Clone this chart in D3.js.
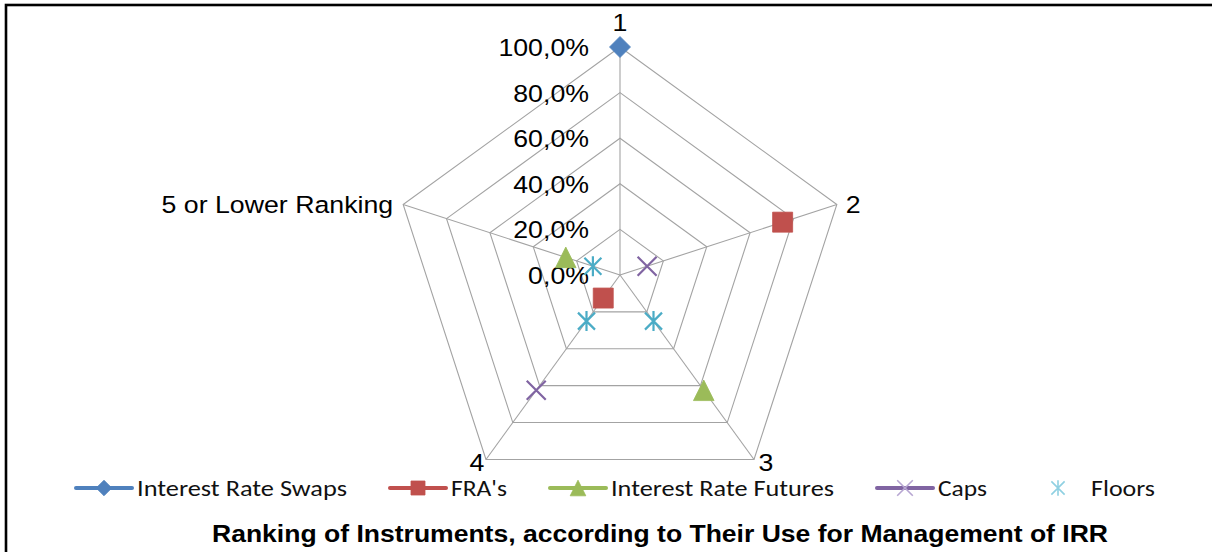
<!DOCTYPE html>
<html>
<head>
<meta charset="utf-8">
<script src="https://cdn.jsdelivr.net/npm/d3@7"></script>
<style>
  body { margin: 0; background: #fff; }
  svg { display: block; }
</style>
</head>
<body>
<svg id="chart" width="1212" height="552"></svg>
<script>
// Radar axes (ranking positions) and percentage rings
const categories = ["1", "2", "3", "4", "5 or Lower Ranking"];
const tickValues = [0, 20, 40, 60, 80, 100];
const tickLabels = ["0,0%", "20,0%", "40,0%", "60,0%", "80,0%", "100,0%"];

// Share of respondents per ranking position (null = no answers)
const seriesNames = ["Interest Rate Swaps", "FRA's", "Interest Rate Futures", "Caps", "Floors"];
const swaps   = [100, null, null, null, null];
const fras    = [null, 75, null, 12.5, null];
const futures = [null, null, 62.5, null, 25];
const caps    = [null, 12.5, null, 62.5, null];
const floors  = [null, null, 25, 25, 12.5];

const title = "Ranking of Instruments, according to Their Use for Management of IRR";

// ---- layout / style ----
const W = 1212, H = 552;
const cx = 620, cy = 275, R = 228;
const gridColor = "#a3a3a3";
const colors = ["#4f81bd", "#c0504d", "#9bbb59", "#8064a2", "#4bacc6"];
const legendSoft = [null, null, null, "#b7a6d2", "#8fd0e2"];
const markerKinds = ["diamond", "square", "triangle", "x", "asterisk"];
const axisFont = "'Liberation Sans', Arial, sans-serif";
const legendFont = "Carlito, Calibri, Lato, sans-serif";

const svg = d3.select("#chart");

// Outer frame
svg.append("rect")
  .attr("x", 6).attr("y", 5)
  .attr("width", W + 20).attr("height", H + 20)
  .attr("fill", "#fff")
  .attr("stroke", "#000")
  .attr("stroke-width", 2.6);

const r = d3.scaleLinear().domain([0, 100]).range([0, R]);
const angle = d3.scaleLinear().domain([0, categories.length]).range([0, 2 * Math.PI]);
const pt = (i, v) => {
  const p = d3.pointRadial(angle(i), r(v));
  return [cx + p[0], cy + p[1]];
};

const g = svg.append("g");

// Rings
const ring = d3.lineRadial()
  .angle((d, i) => angle(i))
  .radius(d => r(d))
  .curve(d3.curveLinearClosed);

g.append("g").selectAll("path")
  .data(tickValues.filter(t => t > 0))
  .join("path")
  .attr("transform", `translate(${cx},${cy})`)
  .attr("d", t => ring(categories.map(() => t)))
  .attr("fill", "none")
  .attr("stroke", gridColor)
  .attr("stroke-width", 1.1);

// Spokes
g.append("g").selectAll("line")
  .data(categories)
  .join("line")
  .attr("x1", cx).attr("y1", cy)
  .attr("x2", (d, i) => pt(i, 100)[0])
  .attr("y2", (d, i) => pt(i, 100)[1])
  .attr("stroke", gridColor)
  .attr("stroke-width", 1.1);

// Widen text horizontally a little
function stretch(sel, k) {
  sel.each(function () {
    const w = this.getComputedTextLength();
    d3.select(this).attr("textLength", w * k).attr("lengthAdjust", "spacingAndGlyphs");
  });
}

// Tick labels along the first axis
g.append("g").selectAll("text")
  .data(tickValues)
  .join("text")
  .attr("x", cx - 31)
  .attr("y", t => cy - r(t) + 9)
  .attr("text-anchor", "end")
  .attr("font-family", axisFont)
  .attr("font-size", 24.5)
  .attr("fill", "#000")
  .text((t, i) => tickLabels[i])
  .call(stretch, 1.09);

// Category labels around the web
const catOffset = [
  { dx: 0, dy: -16, anchor: "middle" },
  { dx: 9, dy: 8, anchor: "start" },
  { dx: 12, dy: 11.5, anchor: "middle" },
  { dx: -9, dy: 11.5, anchor: "middle" },
  { dx: -10, dy: 8, anchor: "end" }
];
g.append("g").selectAll("text")
  .data(categories)
  .join("text")
  .attr("x", (d, i) => pt(i, 100)[0] + catOffset[i].dx)
  .attr("y", (d, i) => pt(i, 100)[1] + catOffset[i].dy)
  .attr("text-anchor", (d, i) => catOffset[i].anchor)
  .attr("font-family", axisFont)
  .attr("font-size", 24.5)
  .attr("fill", "#000")
  .text(d => d)
  .call(stretch, 1.09);

// Marker shapes
function markerPath(kind, s) {
  const p = d3.path();
  if (kind === "diamond") {
    p.moveTo(0, -s); p.lineTo(s, 0); p.lineTo(0, s); p.lineTo(-s, 0); p.closePath();
  } else if (kind === "square") {
    p.rect(-s, -s, 2 * s, 2 * s);
  } else if (kind === "triangle") {
    p.moveTo(0, -s); p.lineTo(s, s); p.lineTo(-s, s); p.closePath();
  } else if (kind === "x") {
    p.moveTo(-s, -s); p.lineTo(s, s); p.moveTo(s, -s); p.lineTo(-s, s);
  } else if (kind === "asterisk") {
    const d = s * 0.85;
    p.moveTo(0, -s); p.lineTo(0, s);
    p.moveTo(-d, -d); p.lineTo(d, d); p.moveTo(d, -d); p.lineTo(-d, d);
  }
  return p.toString();
}
function styleMarker(sel, kind, color, sw) {
  if (kind === "x" || kind === "asterisk") {
    sel.attr("fill", "none").attr("stroke", color).attr("stroke-width", sw);
  } else {
    sel.attr("fill", color).attr("stroke", color).attr("stroke-width", 0.8)
       .attr("stroke-linejoin", "round");
  }
}

const series = [swaps, fras, futures, caps, floors];
const markerSize = [10.5, 10, 10.3, 9.5, 10];

series.forEach((vals, si) => {
  const pts = vals.map((v, i) => ({ v, i })).filter(d => d.v != null);
  g.append("g").selectAll("path")
    .data(pts)
    .join("path")
    .attr("transform", d => `translate(${pt(d.i, d.v)[0]},${pt(d.i, d.v)[1]})`)
    .attr("d", markerPath(markerKinds[si], markerSize[si]))
    .call(styleMarker, markerKinds[si], colors[si], 2.2);
});

// Legend
const legendWidths = [210, 56, 223, 49, 64];
const legendY = 488;
let lx = 76;
const leg = svg.append("g");
seriesNames.forEach((name, si) => {
  const item = leg.append("g");
  if (si !== 4) {
    item.append("line")
      .attr("x1", lx).attr("x2", lx + 56)
      .attr("y1", legendY).attr("y2", legendY)
      .attr("stroke", colors[si])
      .attr("stroke-width", 4)
      .attr("stroke-linecap", "round");
  }
  const mc = legendSoft[si] || colors[si];
  item.append("path")
    .attr("transform", `translate(${lx + 28},${legendY})`)
    .attr("d", markerPath(markerKinds[si], si === 1 ? 7 : 7.8))
    .call(styleMarker, markerKinds[si], mc, 1.6);
  item.append("text")
    .attr("x", lx + 61)
    .attr("y", legendY + 7.5)
    .attr("font-family", legendFont)
    .attr("font-size", 21.5)
    .attr("fill", "#111")
    .attr("textLength", legendWidths[si])
    .attr("lengthAdjust", "spacingAndGlyphs")
    .text(name);
  lx += 61 + legendWidths[si] + 43;
});

// Title
svg.append("text")
  .attr("x", 212)
  .attr("y", 542)
  .attr("font-family", axisFont)
  .attr("font-weight", "bold")
  .attr("font-size", 23)
  .attr("fill", "#000")
  .attr("textLength", 896)
  .attr("lengthAdjust", "spacingAndGlyphs")
  .text(title);
</script>
</body>
</html>
